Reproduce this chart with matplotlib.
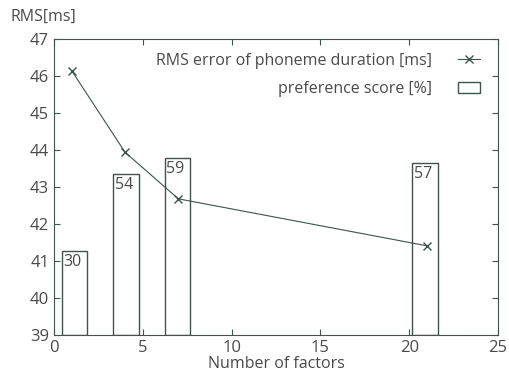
import matplotlib.pyplot as plt

# data
factors = [1, 4, 7, 21]
rms_error = [46.14, 43.94, 42.68, 41.41]
bar_pos = [1.15, 4.05, 6.95, 20.9]
bar_top = [41.26, 43.36, 43.78, 43.64]
pref_score = [30, 54, 59, 57]

col = '#3e524e'
txt = '#4a4a4a'
plt.rcParams['font.family'] = ['Open Sans', 'DejaVu Sans']
fs = 11.5

fig = plt.figure(figsize=(5.09, 3.77), dpi=100)
ax = fig.add_axes([54 / 509, 1 - 335 / 377, 444 / 509, 296 / 377])

ymin = 39
heights = [t - ymin for t in bar_top]
ax.bar(bar_pos, heights, width=1.45, bottom=ymin, facecolor='none',
       edgecolor=col, linewidth=1.0, label='preference score [%]')
for x, t, s in zip(bar_pos, bar_top, pref_score):
    ax.text(x - 0.62, t - 0.08, str(s), ha='left', va='top', color=txt, fontsize=fs)

ax.plot(factors, rms_error, color=col, marker='x', markersize=6, linewidth=0.8,
        label='RMS error of phoneme duration [ms]')

ax.set_xlim(0, 25)
ax.set_ylim(39, 47)
ax.set_xticks([0, 5, 10, 15, 20, 25])
ax.set_yticks(range(39, 48))
ax.tick_params(direction='in', top=True, right=True, colors=col, labelcolor=txt,
               length=4, labelsize=fs + 0.5)
for sp in ax.spines.values():
    sp.set_color(col)

ax.set_xlabel('Number of factors', color=txt, fontsize=fs, labelpad=0)
fig.text(10 / 509, 1 - 17 / 377, 'RMS[ms]', color=txt, fontsize=fs, va='center')

ax.legend(loc='upper right', bbox_to_anchor=(1 - 8 / 444, 1 - 4 / 296),
          frameon=False, markerfirst=False, labelcolor=txt, fontsize=fs,
          handlelength=1.4, handletextpad=1.6, borderaxespad=0.2,
          labelspacing=0.8)

plt.savefig('out.png', dpi=100)
